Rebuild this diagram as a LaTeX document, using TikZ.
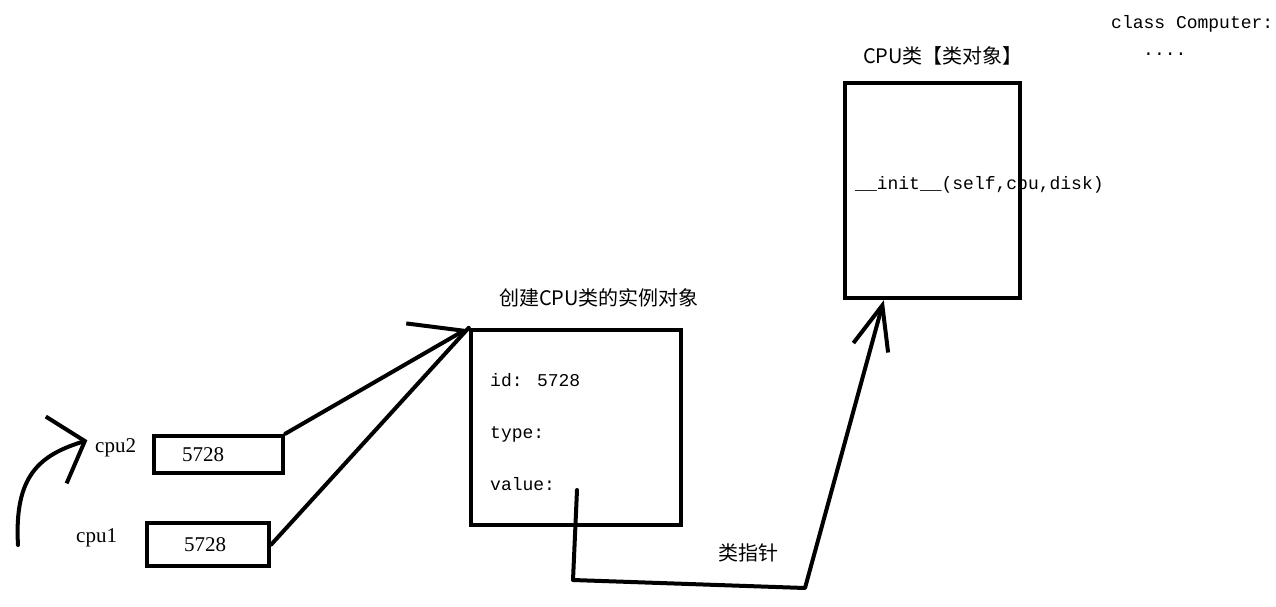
\documentclass[tikz,border=0pt]{standalone}
\usepackage{fontspec}
\newfontfamily\cjk{Noto Sans CJK SC}
\newfontfamily\mono{Liberation Mono}
\newfontfamily\numfont{Liberation Serif}
\usetikzlibrary{arrows.meta}

\begin{document}
\begin{tikzpicture}[x=1pt,y=-1pt,
  box/.style={draw,line width=4.5pt,inner sep=0pt},
  fld/.style={font=\mono\fontsize{18}{20}\selectfont,inner sep=0pt,anchor=base west},
  ttl/.style={font=\cjk\fontsize{20}{22}\selectfont,inner sep=0pt},
  lbl/.style={font=\numfont\fontsize{21}{23}\selectfont,inner sep=0pt},
  ptr/.style={line width=4pt,line cap=round,line join=round}]
  \useasboundingbox (0,0) rectangle (1276,606);
  % variables cpu1, cpu2
  \node[box,lbl,minimum width=129pt,minimum height=37pt,text width=73pt,
    inner xsep=28pt,align=left] (v2) at (218.5,454.5) {5728};
  \node[box,lbl,minimum width=122pt,minimum height=43pt,text width=48pt,
    inner xsep=37pt,align=left] (v1) at (208,544.5) {5728};
  \node[lbl,anchor=base west] (n2) at (95,452) {cpu2};
  \node[lbl,anchor=base west] (n1) at (76,542) {cpu1};
  % instance object
  \node[box,minimum width=210pt,minimum height=195pt] (inst) at (576,427.5) {};
  \node[ttl] (instt) at (599,298) {创建CPU类的实例对象};
  \node[fld] (fid) at (490,386) {id: 5728};
  \node[fld] (ftype) at (490,438) {type:};
  \node[fld] (fval) at (490,490) {value:};
  % class object
  \node[box,minimum width=175pt,minimum height=215pt] (cls) at (932.5,190.5) {};
  \node[ttl] (clst) at (943,56) {CPU类【类对象】};
  \node[fld] (finit) at (855,189) {\_\_init\_\_(self,cpu,disk)};
  \node[ttl] (ptrt) at (748,553) {类指针};
  \node[fld] (cdef) at (1111,28) {class Computer:};
  \node[fld] (cdots) at (1143,55) {....};
  % pointers
  \coordinate (ctail) at (18,545);
  \draw[ptr,-{Straight Barb[length=30pt,width=70pt]},shorten >=8pt]
    (ctail) .. controls (14,475) and (40,455) .. (n2.north west);
  \draw[ptr,-{Straight Barb[left,length=46pt,width=70pt]}] (v2.north east) -- (inst.north west);
  \draw[ptr] (v1.east) -- (inst.north west);
  \coordinate (vptr) at (577,490);
  \coordinate (k1) at (573,580);
  \coordinate (k2) at (805,588);
  \draw[ptr,-{Straight Barb[length=44pt,width=36pt]}]
    (vptr) -- (k1) -- (k2) -- ([xshift=41pt]cls.south west);
\end{tikzpicture}
\end{document}
